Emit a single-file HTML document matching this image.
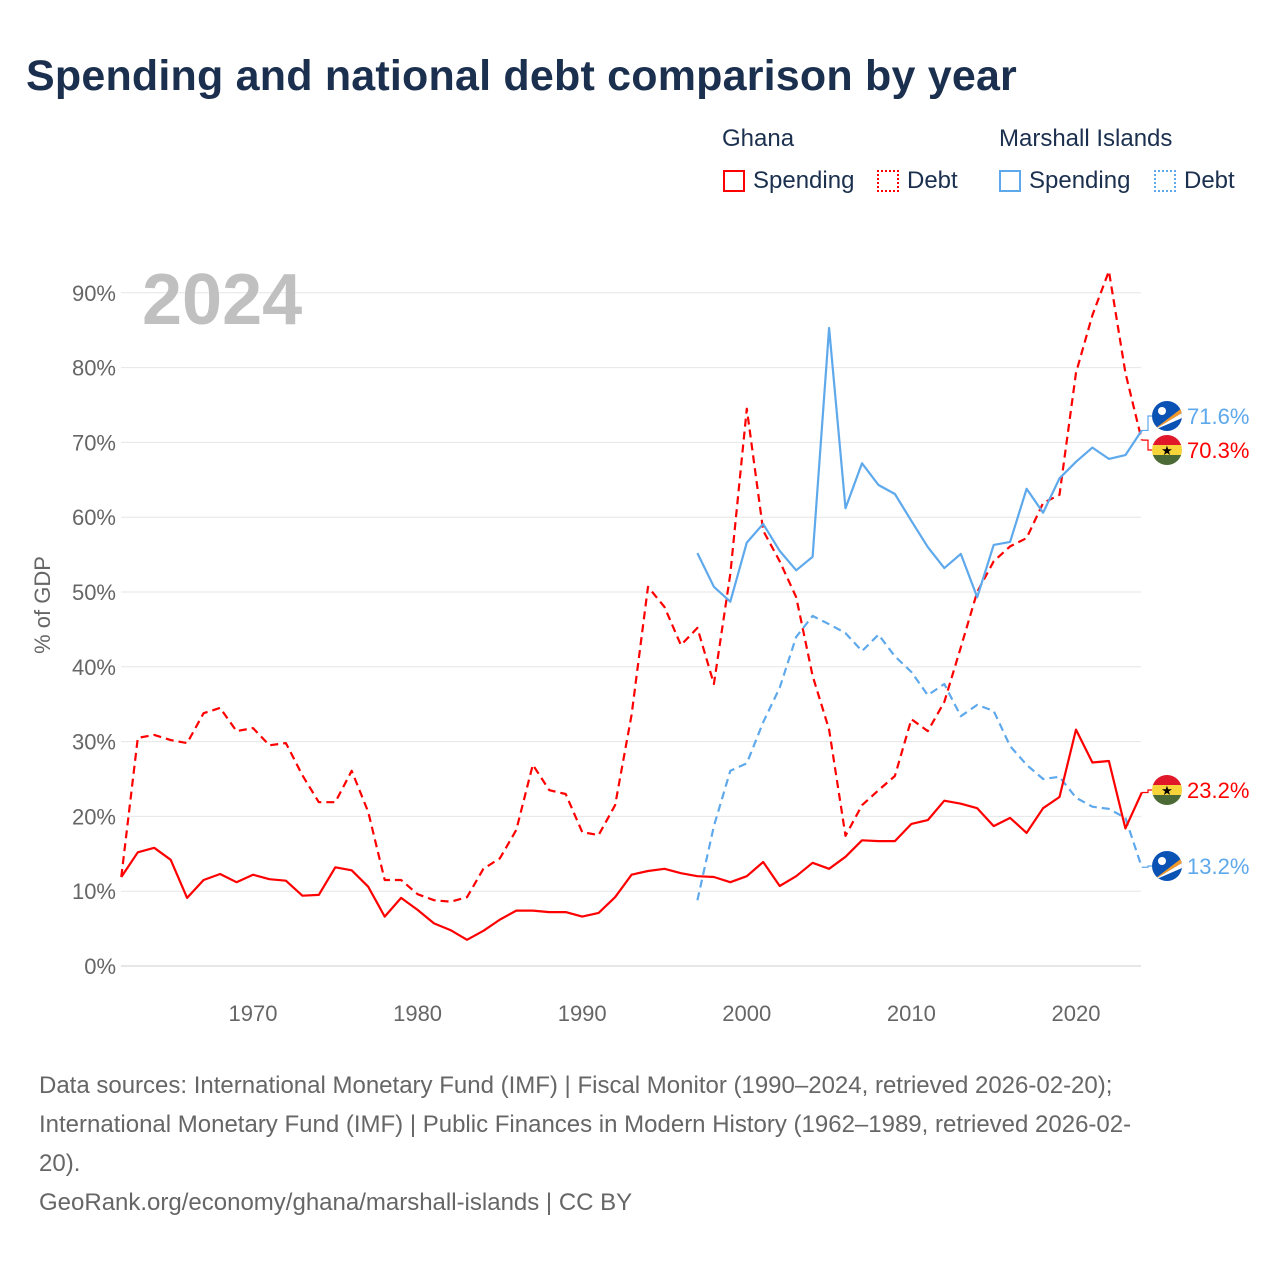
<!DOCTYPE html>
<html><head><meta charset="utf-8">
<style>
body{margin:0;background:#fff;font-family:"Liberation Sans",sans-serif;}
#wrap{position:relative;width:1280px;height:1280px;overflow:hidden;background:#fff}
h1{position:absolute;left:26px;top:52px;margin:0;font-size:43px;font-weight:bold;color:#1b2f4e;letter-spacing:0.2px}
.t{position:absolute;font-size:24px;color:#1b2f4e}
.sw{position:absolute;width:22px;height:22px;box-sizing:border-box}
.src{position:absolute;left:39px;top:1066px;font-size:24px;line-height:39px;color:#666;width:1230px;white-space:nowrap}
</style></head><body>
<div id="wrap">
<h1>Spending and national debt comparison by year</h1>
<div class="t" style="left:722px;top:125px">Ghana</div>
<div class="t" style="left:999px;top:125px">Marshall Islands</div>
<div class="sw" style="left:723px;top:170px;border:2px solid #f00"></div>
<div class="t" style="left:753px;top:167px">Spending</div>
<div class="sw" style="left:877px;top:170px;border:2px dotted #f00"></div>
<div class="t" style="left:907px;top:167px">Debt</div>
<div class="sw" style="left:999px;top:170px;border:2px solid #5ea8ec"></div>
<div class="t" style="left:1029px;top:167px">Spending</div>
<div class="sw" style="left:1154px;top:170px;border:2px dotted #5ea8ec"></div>
<div class="t" style="left:1184px;top:167px">Debt</div>
<svg id="chart" width="1280" height="1280" style="position:absolute;left:0;top:0"></svg>
<div class="src">Data sources: International Monetary Fund (IMF) | Fiscal Monitor (1990–2024, retrieved 2026-02-20);<br>International Monetary Fund (IMF) | Public Finances in Modern History (1962–1989, retrieved 2026-02-<br>20).<br>GeoRank.org/economy/ghana/marshall-islands | CC BY</div>
</div>
<script>
const yTicks=[0,10,20,30,40,50,60,70,80,90];
const xTicks=[1970,1980,1990,2000,2010,2020];
const ghanaYears0=1962;
const ghanaSpending=[11.9,15.2,15.8,14.2,9.1,11.5,12.3,11.2,12.2,11.6,11.4,9.4,9.5,13.2,12.8,10.6,6.6,9.1,7.5,5.7,4.8,3.5,4.7,6.2,7.4,7.4,7.2,7.2,6.6,7.1,9.2,12.2,12.7,13.0,12.4,12.0,11.9,11.2,12.0,13.9,10.7,12.0,13.8,13.0,14.6,16.8,16.7,16.7,19.0,19.5,22.1,21.7,21.1,18.7,19.8,17.8,21.1,22.6,31.6,27.2,27.4,18.4,23.2];
const ghanaDebt=[11.9,30.5,30.9,30.2,29.8,33.8,34.5,31.4,31.8,29.5,29.8,25.5,21.9,21.9,26.1,20.6,11.5,11.5,9.6,8.8,8.6,9.2,13.0,14.4,18.2,26.9,23.5,23.0,17.9,17.5,21.5,33.6,50.7,48.0,42.9,45.2,37.7,52.4,74.5,58.2,54.1,49.3,38.8,31.6,17.4,21.5,23.5,25.4,33.0,31.4,35.3,42.6,50.0,54.1,56.1,57.2,61.9,63.0,79.3,87.0,92.9,79.3,70.3];
const mhYears0=1997;
const mhSpending=[55.2,50.7,48.7,56.6,59.1,55.5,52.9,54.7,85.3,61.2,67.2,64.3,63.1,59.5,56.0,53.2,55.1,49.3,56.3,56.7,63.8,60.6,65.2,67.4,69.3,67.8,68.3,71.6];
const mhDebt=[8.8,18.7,26.1,27.1,32.6,37.2,44.0,46.8,45.7,44.5,42.1,44.3,41.4,39.3,36.2,37.7,33.4,34.9,34.1,29.4,26.9,25.0,25.3,22.5,21.3,21.0,19.8,13.2];

const NS='http://www.w3.org/2000/svg';
const svg=document.getElementById('chart');
const X=yr=>121.3+(yr-1962)*16.46;
const Y=v=>966-v*7.48;
function el(tag,attrs,parent){const e=document.createElementNS(NS,tag);for(const k in attrs)e.setAttribute(k,attrs[k]);(parent||svg).appendChild(e);return e;}
yTicks.forEach(v=>{
  const l=el('line',{x1:121,x2:1141,y1:Y(v),y2:Y(v),stroke:v===0?'#ccc':'#e6e6e6','stroke-width':1});
  
  
  const t=el('text',{x:116,y:Y(v)+8,'text-anchor':'end','font-size':22,fill:'#666','font-family':'Liberation Sans, sans-serif'});
  t.textContent=v+'%';
  
  
});
xTicks.forEach(yr=>{
  const t=el('text',{x:X(yr),y:1021,'text-anchor':'middle','font-size':22,fill:'#666','font-family':'Liberation Sans, sans-serif'});
  t.textContent=yr;
  
  
});
const yt=el('text',{x:0,y:0,transform:'translate(50,605) rotate(-90)','text-anchor':'middle','font-size':22,fill:'#666','font-family':'Liberation Sans, sans-serif'});
yt.textContent='% of GDP';


const yr=el('text',{x:142,y:324,'font-size':72,'font-weight':'bold',fill:'#c0c0c0','font-family':'Liberation Sans, sans-serif'});
yr.textContent='2024';


function series(vals,y0,color,dash,name){
  const d=vals.map((v,i)=>(i?'L':'M')+X(y0+i).toFixed(1)+' '+Y(v).toFixed(1)).join(' ');
  const p=el('path',{d:d,fill:'none',stroke:color,'stroke-width':2.2,'stroke-dasharray':dash||'none','stroke-linejoin':'round'});
  
  
}
series(ghanaDebt,ghanaYears0,'#f00','8 5','ghana-debt-line');
series(mhDebt,mhYears0,'#5ea8ec','8 5','mh-debt-line');
series(mhSpending,mhYears0,'#5ea8ec','','mh-spending-line');
series(ghanaSpending,ghanaYears0,'#f00','','ghana-spending-line');
function flag(cy,type){
  const g=el('g',{});
  
  
  const cx=1167,r=15;
  const cp=el('clipPath',{id:'c'+cy},g);el('circle',{cx:cx,cy:cy,r:r},cp);
  const inner=el('g',{'clip-path':'url(#c'+cy+')'},g);
  if(type==='ghana'){
    el('rect',{x:cx-r,y:cy-r,width:30,height:10,fill:'#e0182a'},inner);
    el('rect',{x:cx-r,y:cy-5,width:30,height:10,fill:'#f6d43a'},inner);
    el('rect',{x:cx-r,y:cy+5,width:30,height:10,fill:'#4b6a35'},inner);
    const s=el('text',{x:cx,y:cy+5,'text-anchor':'middle','font-size':13,fill:'#000'},inner);s.textContent='★';
  }else{
    el('rect',{x:cx-r,y:cy-r,width:30,height:30,fill:'#0b52b5'},inner);
    el('path',{d:`M${cx-r} ${cy+r} L${cx+r} ${cy-8} L${cx+r} ${cy-3} Z`,fill:'#f39a2a'},inner);
    el('path',{d:`M${cx-r} ${cy+r} L${cx+r} ${cy-3} L${cx+r} ${cy+2} Z`,fill:'#fff'},inner);
    el('circle',{cx:cx-5,cy:cy-5,r:4,fill:'#fff'},inner);
  }
}
function endLabel(val,ly,color,type,name){
  el('path',{d:`M${X(2024)} ${Y(val)} L1148 ${Y(val)} L1148 ${ly} L1152 ${ly}`,fill:'none',stroke:color,'stroke-width':1.2});
  flag(ly,type);
  const t=el('text',{x:1187,y:ly+8,'font-size':22,fill:color,'font-family':'Liberation Sans, sans-serif'});
  t.textContent=val.toFixed(1)+'%';
  
  
}
endLabel(mhSpending[mhSpending.length-1],416,'#5ea8ec','mh','mh-spending-end-label');
endLabel(ghanaDebt[ghanaDebt.length-1],450,'#f00','ghana','ghana-debt-end-label');
endLabel(ghanaSpending[ghanaSpending.length-1],790,'#f00','ghana','ghana-spending-end-label');
endLabel(mhDebt[mhDebt.length-1],866,'#5ea8ec','mh','mh-debt-end-label');
</script>
</body></html>
